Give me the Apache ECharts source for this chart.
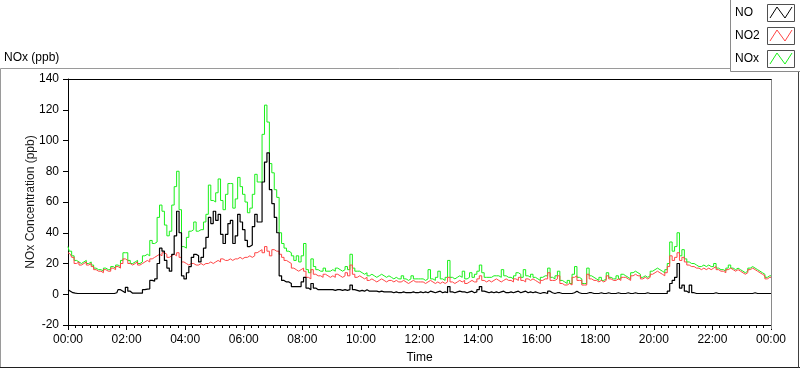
<!DOCTYPE html>
<html>
<head>
<meta charset="utf-8">
<script src="https://cdn.jsdelivr.net/npm/echarts@6/dist/echarts.min.js"></script>
<style>
  html, body { margin: 0; padding: 0; background: #ffffff; }
  #chart { width: 800px; height: 369px; }
</style>
</head>
<body>
<div id="chart"></div>
<script>
// ---- Data (5-minute samples from 00:00 to 24:00) ----
const sampleMinutes = 5;
const seriesNames = ['NO', 'NO2', 'NOx'];
const xTickLabels = ['00:00','02:00','04:00','06:00','08:00','10:00','12:00','14:00','16:00','18:00','20:00','22:00','00:00'];
const yTicks = [-20, 0, 20, 40, 60, 80, 100, 120, 140];

const NO = [
  3,2,1,0.7,0.5,0.5,0.5,0.5,0.5,0.5,0.5,0.5,
  0.5,0.5,0.5,0.5,0.5,0.5,0.5,0.5,1,3,2,1,
  4.5,2,0.7,0.7,0.7,0.7,0.7,3,3.3,3.5,9,8.5,
  10,20,30,28,22,17,15,26,38,54,40,12,
  10,14,18,24,26,25,21,24,30,37,50,46,
  54,48,52,39,33,39,46,48,33,38,52,47,
  42,35,31,32,44,52,47,47,73,86,92,68,
  59,50,40,12,9,8,8,7,5,5,5,5,
  8,11,4,3,7,4,3,3,3,3,3,3,
  3,2.5,3,3,2.5,3,2.5,3,6,3,2.5,2,
  2.5,2,3,2,2,2,2,1.5,2,1.5,1.5,1.5,
  1.5,1,1.5,1,1,1.5,1,1,1,1.5,1,1,
  1.5,1,1.5,1,2,1.5,1,1.5,2,1,1.5,1,
  5,1.5,1,1.5,2,1.5,1.5,1,1.5,2,1,1.5,
  3,5,2,1.5,1,1.5,1,1.5,1,1.5,2,1,
  1,1.5,1,1.5,2,1,1.5,2,1,1.5,1,1.5,
  1,0.5,1,1,0.5,2,1,0.5,1,1,0.5,0.5,
  0.5,0.5,0.5,1,2,1,0.5,0.5,0.5,1,1,0.5,
  0.5,0.5,1,0.5,0.5,1,0.5,0.5,0.5,1,0.5,0.5,
  0.5,1,0.5,0.5,1,0.5,0.5,0.5,0.5,1,0.5,0.5,
  0.5,0.5,0.5,0.5,0.5,0.5,2,7,9,11,20,4,
  6,2,1,6,1,0.5,0.5,0.5,0.5,0.5,0.5,0.5,
  0.5,1,0.5,0.5,0.5,0.5,0.5,0.5,0.5,0.5,0.5,0.5,
  0.5,0.5,0.5,0.5,0.5,1,0.5,0.5,0.5,0.5,0.5,0.5,
  0.5
];

const NO2 = [
  27,26,24,20,21,19,20,21,19,20,18,16,
  15,15,14,16,15,15,17,16,18,17,20,23,
  22,20,19,20,21,19,20,21,22,21,23,24,
  25,26,25,27,26,24,25,26,25,27,24,21,
  20,19,20,20,19,19,20,19,20,20,21,20,
  21,22,21,23,22,22,23,22,23,23,24,23,
  24,24,25,24,25,27,28,29,27,31,28,25,
  29,28,28,26,24,22,21,20,17,16,15,16,
  17,15,11,10,16,13,12,12,11,13,12,11,
  12,11,13,12,11,12,14,12,19,13,11,12,
  11,10,11,9,10,9,8,9,10,9,8,9,
  9,8,9,8,8,9,8,7,8,9,8,8,
  8,8,7,8,9,8,7,8,7,8,7,8,
  11,8,7,8,9,8,9,7,8,9,8,8,
  10,12,9,8,9,8,9,10,9,8,9,10,
  9,9,8,10,9,11,9,8,10,9,10,9,
  8,7,9,10,10,14,9,9,10,12,7,6,
  6,7,6,11,12,9,9,6,6,13,10,9,
  9,8,9,8,9,12,10,9,9,10,9,11,
  11,10,9,12,13,12,12,10,11,10,11,13,
  14,15,14,13,12,14,18,25,22,24,27,22,
  24,21,19,18,18,17,17,16,17,16,17,16,
  17,18,16,15,15,14,16,17,16,15,16,15,
  14,13,14,16,17,16,15,14,13,12,10,11,
  11
];

const NOX = [
  31,28,25,22,21,20,21,22,20,21,19,17,
  16,16,15,17,16,16,18,17,19,18,22,27,
  27,22,20,21,22,20,21,25,26,25,35,33,
  34,50,58,54,45,38,41,58,70,80,55,31,
  30,37,41,42,47,41,42,42,47,52,71,61,
  60,66,75,61,55,65,72,72,56,62,76,70,
  65,60,53,56,65,78,73,73,104,123,112,85,
  79,68,63,40,33,30,28,27,25,22,25,21,
  25,33,16,14,23,18,16,15,15,17,15,15,
  16,15,17,16,15,16,18,16,26,17,15,15,
  14,13,14,12,13,12,11,12,13,12,11,12,
  11,10,11,10,10,12,10,9,10,12,10,10,
  10,10,9,10,16,10,9,11,15,10,9,11,
  22,11,10,11,12,11,15,10,11,14,11,13,
  15,19,14,11,11,11,12,12,12,11,16,12,
  11,11,10,12,14,13,11,16,12,11,13,11,
  10,9,11,12,12,17,11,10,12,15,9,8,
  7,9,7,13,18,11,10,7,7,17,12,11,
  10,9,11,9,10,14,11,10,10,12,10,13,
  12,11,10,14,15,14,13,11,12,11,12,15,
  16,17,16,15,14,16,20,34,28,31,40,25,
  29,23,21,20,20,19,18,18,19,18,19,18,
  18,20,17,16,16,15,17,19,17,16,17,16,
  15,14,15,17,18,17,16,15,14,13,11,12,
  12
];

const seriesColors = { NO: '#000000', NO2: '#ff4545', NOx: '#19f019' };
const FONT = 'Liberation Sans, Arial, sans-serif';

function toPairs(arr) { return arr.map((v, i) => [i * sampleMinutes, v]); }

const chart = echarts.init(document.getElementById('chart'), null, { renderer: 'canvas' });

function swatch(y, color) {
  return [
    { type: 'rect', shape: { x: 767.5, y: y + 0.5, width: 27, height: 17 },
      style: { fill: '#ffffff', stroke: '#505050', lineWidth: 1 }, z: 101 },
    { type: 'polyline', shape: { points: [[770, y + 14], [777, y + 3], [785, y + 14], [792, y + 3]] },
      style: { stroke: color, lineWidth: 1, fill: null }, z: 102 }
  ];
}

const option = {
  animation: false,
  backgroundColor: '#ffffff',
  grid: { left: 68, right: 29, top: 79, bottom: 40, show: false },
  xAxis: {
    type: 'value', min: 0, max: 1440, interval: 120,
    name: 'Time', nameLocation: 'middle', nameGap: 27, nameMoveOverlap: false,
    nameTextStyle: { fontFamily: FONT, fontSize: 12, color: '#000' },
    axisLine: { show: true, onZero: false, lineStyle: { color: '#000', width: 1 } },
    axisTick: { show: true, inside: false, length: 5, lineStyle: { color: '#000' } },
    minorTick: { show: true, splitNumber: 8, length: 3, lineStyle: { color: '#000' } },
    splitLine: { show: false },
    axisLabel: {
      fontFamily: FONT, fontSize: 12, color: '#000', margin: 9,
      formatter: v => xTickLabels[Math.round(v / 120)]
    }
  },
  yAxis: {
    type: 'value', min: yTicks[0], max: yTicks[yTicks.length - 1], interval: 20,
    name: 'NOx Concentration (ppb)', nameLocation: 'middle', nameGap: 31, nameRotate: 90,
    nameMoveOverlap: false,
    nameTextStyle: { fontFamily: FONT, fontSize: 12, color: '#1a1a1a' },
    axisLine: { show: true, onZero: false, lineStyle: { color: '#000', width: 1 } },
    axisTick: { show: true, inside: false, length: 5, lineStyle: { color: '#000' } },
    splitLine: { show: false },
    axisLabel: { fontFamily: FONT, fontSize: 12, color: '#000', margin: 9 }
  },
  series: [
    { name: 'NOx', type: 'line', data: toPairs(NOX), showSymbol: false, step: 'middle',
      lineStyle: { color: seriesColors.NOx, width: 1 }, itemStyle: { color: seriesColors.NOx }, z: 2 },
    { name: 'NO2', type: 'line', data: toPairs(NO2), showSymbol: false, step: 'middle',
      lineStyle: { color: seriesColors.NO2, width: 1 }, itemStyle: { color: seriesColors.NO2 }, z: 3 },
    { name: 'NO', type: 'line', data: toPairs(NO), showSymbol: false, step: 'middle',
      lineStyle: { color: seriesColors.NO, width: 1.2 }, itemStyle: { color: seriesColors.NO }, z: 4 }
  ],
  graphic: [
    // outer panel frame
    { type: 'line', shape: { x1: 0.5, y1: 68.5, x2: 799, y2: 68.5 }, style: { stroke: '#9a9a9a', lineWidth: 1 }, z: 50 },
    { type: 'line', shape: { x1: 0.5, y1: 68.5, x2: 0.5, y2: 368 }, style: { stroke: '#9a9a9a', lineWidth: 1 }, z: 50 },
    { type: 'line', shape: { x1: 0, y1: 367.5, x2: 800, y2: 367.5 }, style: { stroke: '#202020', lineWidth: 1 }, z: 50 },
    { type: 'line', shape: { x1: 798.5, y1: 68.5, x2: 798.5, y2: 368 }, style: { stroke: '#404040', lineWidth: 1 }, z: 50 },
    // plot frame top and right
    { type: 'line', shape: { x1: 68, y1: 79.5, x2: 772, y2: 79.5 }, style: { stroke: '#000', lineWidth: 1 }, z: 50 },
    { type: 'line', shape: { x1: 771.5, y1: 79.5, x2: 771.5, y2: 329 }, style: { stroke: '#8a8a8a', lineWidth: 1 }, z: 50 },
    // title above plot
    { type: 'text', x: 4, y: 58, style: { text: 'NOx (ppb)', fontFamily: FONT, fontSize: 12, fill: '#000', verticalAlign: 'middle' }, z: 60 },
    // legend box
    { type: 'rect', shape: { x: 730.5, y: -1, width: 72, height: 72.5 },
      style: { fill: '#ffffff', stroke: '#8a8a8a', lineWidth: 1 }, z: 100 },
    { type: 'text', x: 735, y: 13, style: { text: seriesNames[0], fontFamily: FONT, fontSize: 12, fill: '#000', verticalAlign: 'middle' }, z: 101 },
    { type: 'text', x: 735, y: 36, style: { text: seriesNames[1], fontFamily: FONT, fontSize: 12, fill: '#000', verticalAlign: 'middle' }, z: 101 },
    { type: 'text', x: 735, y: 59, style: { text: seriesNames[2], fontFamily: FONT, fontSize: 12, fill: '#000', verticalAlign: 'middle' }, z: 101 },
    ...swatch(4, seriesColors.NO),
    ...swatch(27, seriesColors.NO2),
    ...swatch(50, seriesColors.NOx)
  ]
};

chart.setOption(option);
</script>
</body>
</html>
